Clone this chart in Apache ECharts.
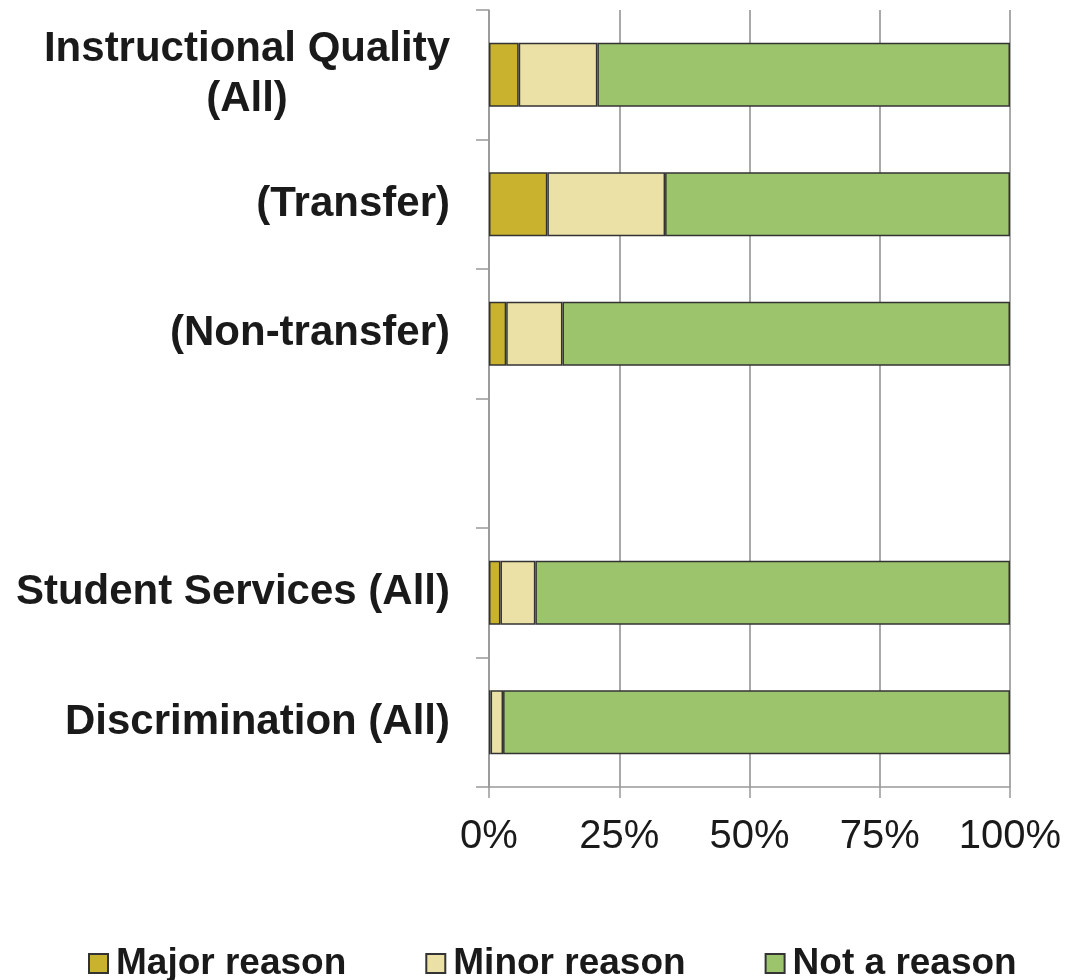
<!DOCTYPE html>
<html>
<head>
<meta charset="utf-8">
<script src="https://cdn.jsdelivr.net/npm/echarts@6/dist/echarts.min.js"></script>
<style>
  html, body { margin: 0; padding: 0; background: #fff; }
  #chart { width: 1079px; height: 980px; }
</style>
</head>
<body>
<div id="chart"></div>
<script>
// categories top to bottom (4th slot is an empty spacer)
const categories = ['Instructional Quality\n(All)', '(Transfer)', '(Non-transfer)', '', 'Student Services (All)', 'Discrimination (All)']
const majorReason = [5.7, 11.2, 3.3, null, 2.2, 0.3]
const minorReason = [15.1, 22.6, 10.8, null, 6.7, 2.4]
const notReason   = [79.2, 66.2, 85.9, null, 91.1, 97.3]
const xTicks = [0, 25, 50, 75, 100]

const chart = echarts.init(document.getElementById('chart'))

const border = { borderColor: '#333', borderWidth: 1.5 }

chart.setOption({
  animation: false,
  grid: { left: 489, right: 69, top: 10, bottom: 193, containLabel: false },
  legend: {
    left: 83, top: 940,
    itemWidth: 19, itemHeight: 19, itemGap: 79,
    icon: 'rect',
    textStyle: { fontFamily: 'Liberation Sans, Arial', fontWeight: 'bold', fontSize: 37, color: '#1a1a1a', padding: [0, 0, 0, 3] },
    data: ['Major reason', 'Minor reason', 'Not a reason']
  },
  xAxis: {
    type: 'value', min: 0, max: 100, interval: 25,
    axisLine: { show: true, lineStyle: { color: '#999', width: 1.5 } },
    axisTick: { show: true, length: 11, lineStyle: { color: '#999', width: 1.5 } },
    splitLine: { show: true, lineStyle: { color: '#8c8c8c', width: 1.5 } },
    axisLabel: {
      margin: 30,
      fontFamily: 'Liberation Sans, Arial', fontSize: 40, color: '#1a1a1a',
      formatter: v => xTicks.includes(v) ? v + '%' : ''
    }
  },
  yAxis: {
    type: 'category', inverse: true, data: categories,
    axisLine: { show: true, lineStyle: { color: '#999', width: 1.5 } },
    axisTick: { show: true, length: 13, lineStyle: { color: '#999', width: 1.5 } },
    axisLabel: {
      margin: 39,
      formatter: v => v.split('\n').map(s => '{a|' + s + '}').join('\n'),
      rich: {
        a: { fontFamily: 'Liberation Sans, Arial', fontWeight: 'bold', fontSize: 42, color: '#1a1a1a', align: 'center', lineHeight: 50 }
      }
    }
  },
  series: [
    { name: 'Major reason', type: 'bar', stack: 'all', barWidth: 64, data: majorReason,
      itemStyle: Object.assign({ color: '#c8b22e' }, border) },
    { name: 'Minor reason', type: 'bar', stack: 'all', barWidth: 64, data: minorReason,
      itemStyle: Object.assign({ color: '#ebe0a6' }, border) },
    { name: 'Not a reason', type: 'bar', stack: 'all', barWidth: 64, data: notReason,
      itemStyle: Object.assign({ color: '#9cc46c' }, border) }
  ]
})
</script>
</body>
</html>
